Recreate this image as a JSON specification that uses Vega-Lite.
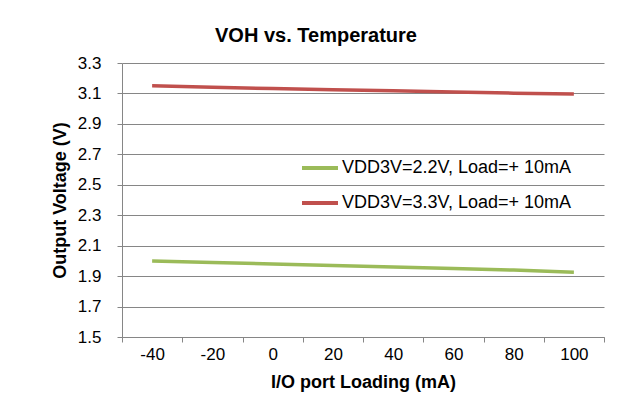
{
  "$schema": "https://vega.github.io/schema/vega-lite/v6.json",
  "width": 482,
  "height": 274,
  "autosize": {"type": "none"},
  "padding": {"left": 122, "top": 63, "right": 32, "bottom": 83},
  "background": "white",
  "title": {
    "text": "VOH vs. Temperature",
    "anchor": "middle",
    "frame": "group",
    "dx": -47,
    "offset": 8,
    "font": "Liberation Sans",
    "fontSize": 20,
    "fontWeight": "bold",
    "color": "#000000"
  },
  "config": {
    "view": {"stroke": null},
    "font": "Liberation Sans",
    "axis": {
      "labelFont": "Liberation Sans",
      "labelFontSize": 17,
      "labelColor": "#000000",
      "titleFont": "Liberation Sans",
      "titleFontSize": 18,
      "titleFontWeight": "bold",
      "titleColor": "#000000",
      "domainColor": "#868686",
      "tickColor": "#868686",
      "gridColor": "#868686",
      "tickSize": 5,
      "domainWidth": 1,
      "gridWidth": 1
    },
    "legend": {
      "labelFont": "Liberation Sans",
      "labelFontSize": 18,
      "labelColor": "#000000",
      "labelLimit": 400
    }
  },
  "data": {
    "values": [
      {"load": -40, "v": 2.0, "series": "VDD3V=2.2V, Load=+ 10mA"},
      {"load": -20, "v": 1.99, "series": "VDD3V=2.2V, Load=+ 10mA"},
      {"load": 0, "v": 1.98, "series": "VDD3V=2.2V, Load=+ 10mA"},
      {"load": 20, "v": 1.97, "series": "VDD3V=2.2V, Load=+ 10mA"},
      {"load": 40, "v": 1.96, "series": "VDD3V=2.2V, Load=+ 10mA"},
      {"load": 60, "v": 1.95, "series": "VDD3V=2.2V, Load=+ 10mA"},
      {"load": 80, "v": 1.94, "series": "VDD3V=2.2V, Load=+ 10mA"},
      {"load": 100, "v": 1.925, "series": "VDD3V=2.2V, Load=+ 10mA"},
      {"load": -40, "v": 3.15, "series": "VDD3V=3.3V, Load=+ 10mA"},
      {"load": -20, "v": 3.14, "series": "VDD3V=3.3V, Load=+ 10mA"},
      {"load": 0, "v": 3.132, "series": "VDD3V=3.3V, Load=+ 10mA"},
      {"load": 20, "v": 3.125, "series": "VDD3V=3.3V, Load=+ 10mA"},
      {"load": 40, "v": 3.118, "series": "VDD3V=3.3V, Load=+ 10mA"},
      {"load": 60, "v": 3.11, "series": "VDD3V=3.3V, Load=+ 10mA"},
      {"load": 80, "v": 3.102, "series": "VDD3V=3.3V, Load=+ 10mA"},
      {"load": 100, "v": 3.097, "series": "VDD3V=3.3V, Load=+ 10mA"}
    ]
  },
  "mark": {"type": "line", "strokeWidth": 3.5},
  "encoding": {
    "x": {
      "field": "load",
      "type": "ordinal",
      "sort": [-40, -20, 0, 20, 40, 60, 80, 100],
      "scale": {"type": "band", "paddingInner": 0, "paddingOuter": 0},
      "axis": {
        "title": "I/O port Loading (mA)",
        "labelAngle": 0,
        "tickBand": "extent",
        "labelPadding": 4,
        "titlePadding": 11,
        "grid": false
      }
    },
    "y": {
      "field": "v",
      "type": "quantitative",
      "scale": {"domain": [1.5, 3.3], "nice": false, "zero": false},
      "axis": {
        "title": "Output Voltage (V)",
        "values": [1.5, 1.7, 1.9, 2.1, 2.3, 2.5, 2.7, 2.9, 3.1, 3.3],
        "format": ".1f",
        "labelPadding": 16,
        "titlePadding": 8,
        "grid": true
      }
    },
    "color": {
      "field": "series",
      "type": "nominal",
      "scale": {
        "domain": ["VDD3V=2.2V, Load=+ 10mA", "VDD3V=3.3V, Load=+ 10mA"],
        "range": ["#9BBB59", "#C0504D"]
      },
      "legend": {
        "title": null,
        "orient": "none",
        "legendX": 178,
        "legendY": 85,
        "symbolType": "stroke",
        "symbolSize": 1296,
        "symbolStrokeWidth": 4,
        "rowPadding": 6,
        "labelOffset": 2,
        "padding": 0
      }
    }
  }
}
